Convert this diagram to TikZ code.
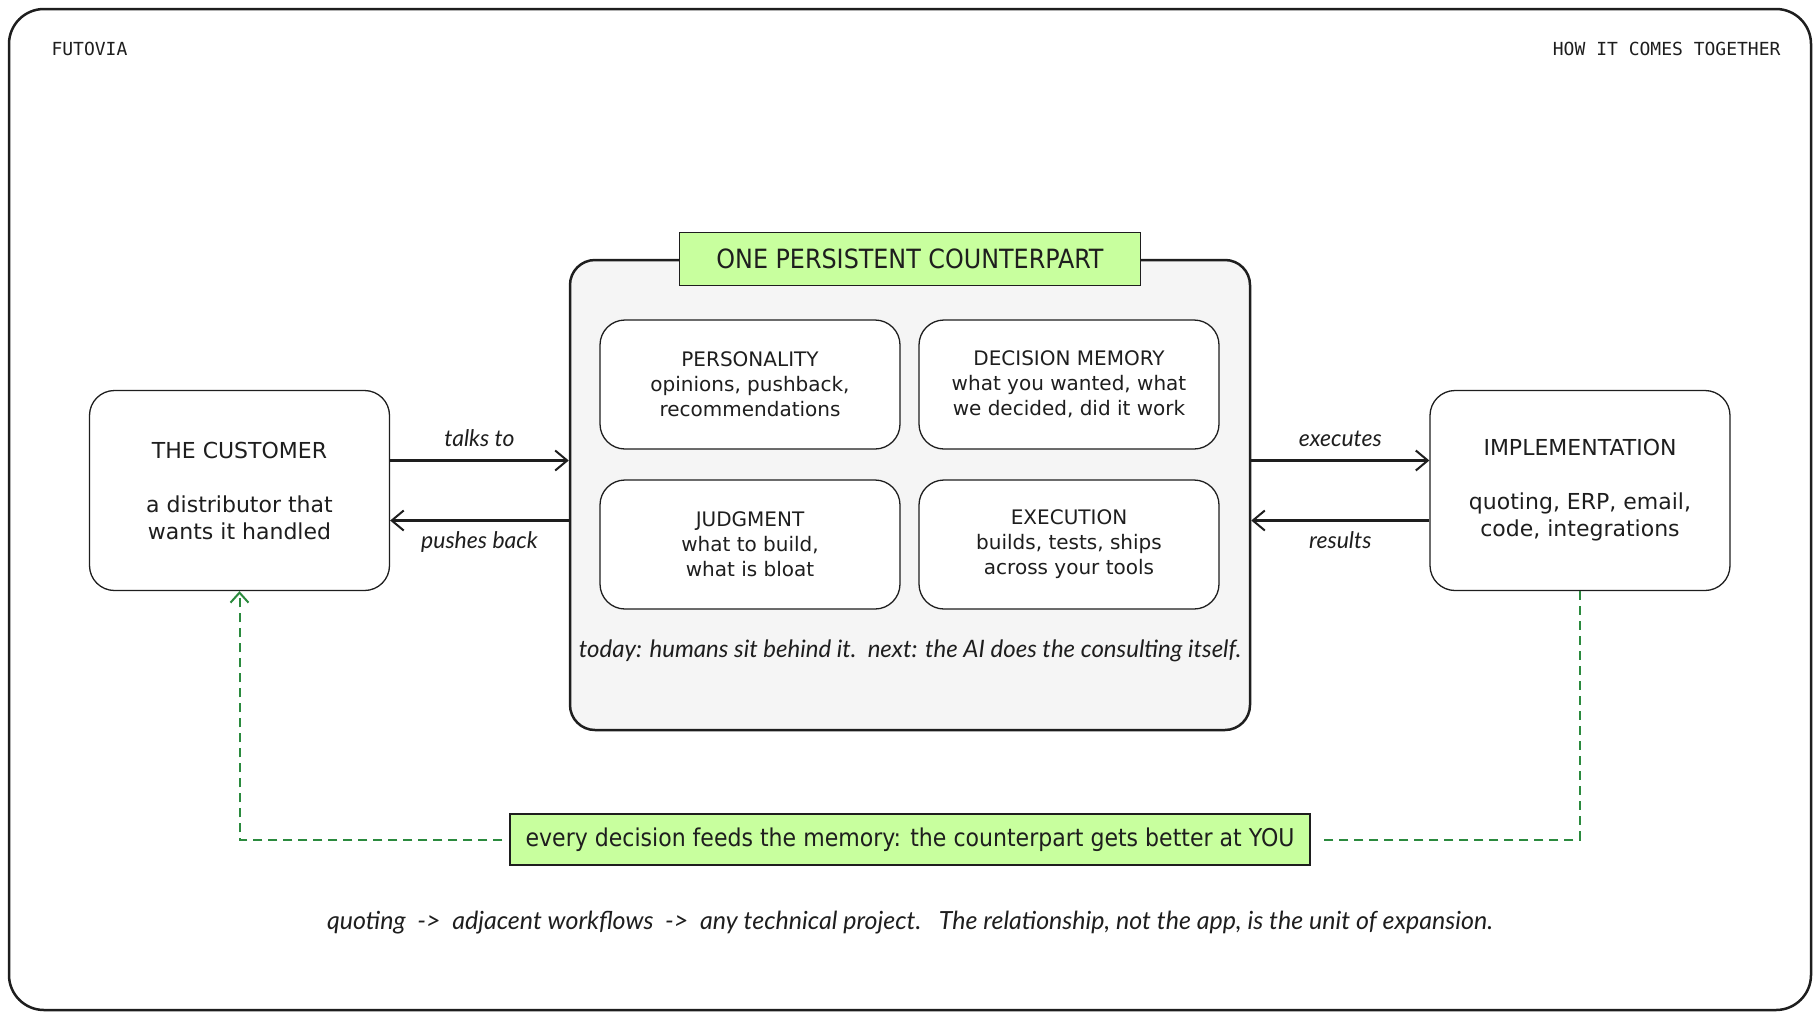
\documentclass[tikz,border=0pt]{standalone}
\usepackage{fontspec}
\setmainfont{DejaVu Sans}
\setmonofont{DejaVu Sans Mono}
\newfontfamily\condfont{DejaVu Sans Condensed}
\newfontfamily\handfont{Lato}
\usetikzlibrary{arrows.meta}
\definecolor{ink}{HTML}{1E1E1E}
\definecolor{panel}{HTML}{F5F5F5}
\definecolor{lime}{RGB}{200,255,158}
\definecolor{leaf}{HTML}{2B8A3E}
\tikzset{
  box/.style={draw=ink,line width=1.3pt,rounded corners=25pt,fill=white,align=center,
    text=ink,font=\fontsize{22}{27}\selectfont},
  part/.style={box,minimum width=300pt,minimum height=129pt,font=\fontsize{20}{25}\selectfont},
  tag/.style={draw=ink,line width=1.5pt,fill=lime,text=ink,font=\condfont\fontsize{24.5}{28}\selectfont},
  hand/.style={text=ink,font=\handfont\itshape\fontsize{23}{26}\selectfont},
  flow/.style={draw=ink,line width=2.2pt,-{Straight Barb[length=12pt,width=20pt,line width=2pt]}},
  feedback/.style={draw=leaf,line width=2pt,dash pattern=on 9pt off 6pt}
}
\begin{document}
\begin{tikzpicture}[x=1pt,y=-1pt]
    \useasboundingbox (0,0) rectangle (1820,1020);
    \draw [ink,line width=2.5pt,rounded corners=35pt] (9,9) rectangle (1811,1010);
    \node [anchor=west,text=ink,font=\ttfamily\fontsize{18}{22}\selectfont] (Brand) at (48,49) {FUTOVIA};
    \node [anchor=east,text=ink,font=\ttfamily\fontsize{18}{22}\selectfont] (Heading) at (1784,49) {HOW IT COMES TOGETHER};

    % the counterpart
    \node [draw=ink,line width=2.5pt,fill=panel,rounded corners=25pt,minimum width=680pt,minimum height=470pt] (Counterpart) at (910,495) {};
    \node [tag,minimum width=461pt,minimum height=53pt,font=\condfont\fontsize{26.5}{30}\selectfont] (Title) at (Counterpart.north) {ONE PERSISTENT COUNTERPART};
    \node [part] (Personality) at (750,384.5) {PERSONALITY\\opinions, pushback,\\recommendations};
    \node [part] (Memory) at (1069,384.5) {DECISION MEMORY\\what you wanted, what\\we decided, did it work};
    \node [part] (Judgment) at (750,544.5) {JUDGMENT\\what to build,\\what is bloat};
    \node [part] (Execution) at (1069,544.5) {EXECUTION\\builds, tests, ships\\across your tools};
    \node [hand,font=\handfont\itshape\fontsize{24}{26}\selectfont] (Today) at (910,651) {today: humans sit behind it.\ \ next: the AI does the consulting itself.};

    % both ends
    \node [box,minimum width=300pt,minimum height=200pt] (Customer) at (239.5,490.5) {THE CUSTOMER\\[27pt]a distributor that\\wants it handled};
    \node [box,minimum width=300pt,minimum height=200pt] (Implementation) at (1580,490.5) {IMPLEMENTATION\\[27pt]quoting, ERP, email,\\code, integrations};

    \coordinate (TalksStart) at ([yshift=30pt]Customer.east);
    \coordinate (ExecStart) at ([yshift=30pt]Implementation.west -| Counterpart.east);
    \coordinate (ResultStart) at ([yshift=-30pt]Implementation.west);
    \draw [flow] (TalksStart) -- node [hand,above=9pt] {talks to} (TalksStart -| Counterpart.west);
    \draw [flow] ([yshift=-30pt]Customer.east -| Counterpart.west) -- node [hand,below=7pt] {pushes back} ([yshift=-30pt]Customer.east);
    \draw [flow] (ExecStart) -- node [hand,above=9pt] {executes} (ExecStart -| Implementation.west);
    \draw [flow] (ResultStart) -- node [hand,below=7pt] {results} (ResultStart -| Counterpart.east);

    % feedback loop
    \node [tag,minimum width=800pt,minimum height=51pt] (Banner) at (910,839.5) {every decision feeds the memory: the counterpart gets better at YOU};
    \draw [feedback,-{Straight Barb[length=10pt,width=18pt,line width=2pt]}] ([xshift=-7pt]Banner.west) -| (Customer.south);
    \draw [feedback] (Implementation.south) |- ([xshift=8pt]Banner.east);

    \node [hand,font=\handfont\itshape\fontsize{25}{28}\selectfont] (Footer) at (910,923) {quoting\ \ ->\ \ adjacent workflows\ \ ->\ \ any technical project.\ \ \ The relationship, not the app, is the unit of expansion.};
\end{tikzpicture}
\end{document}
